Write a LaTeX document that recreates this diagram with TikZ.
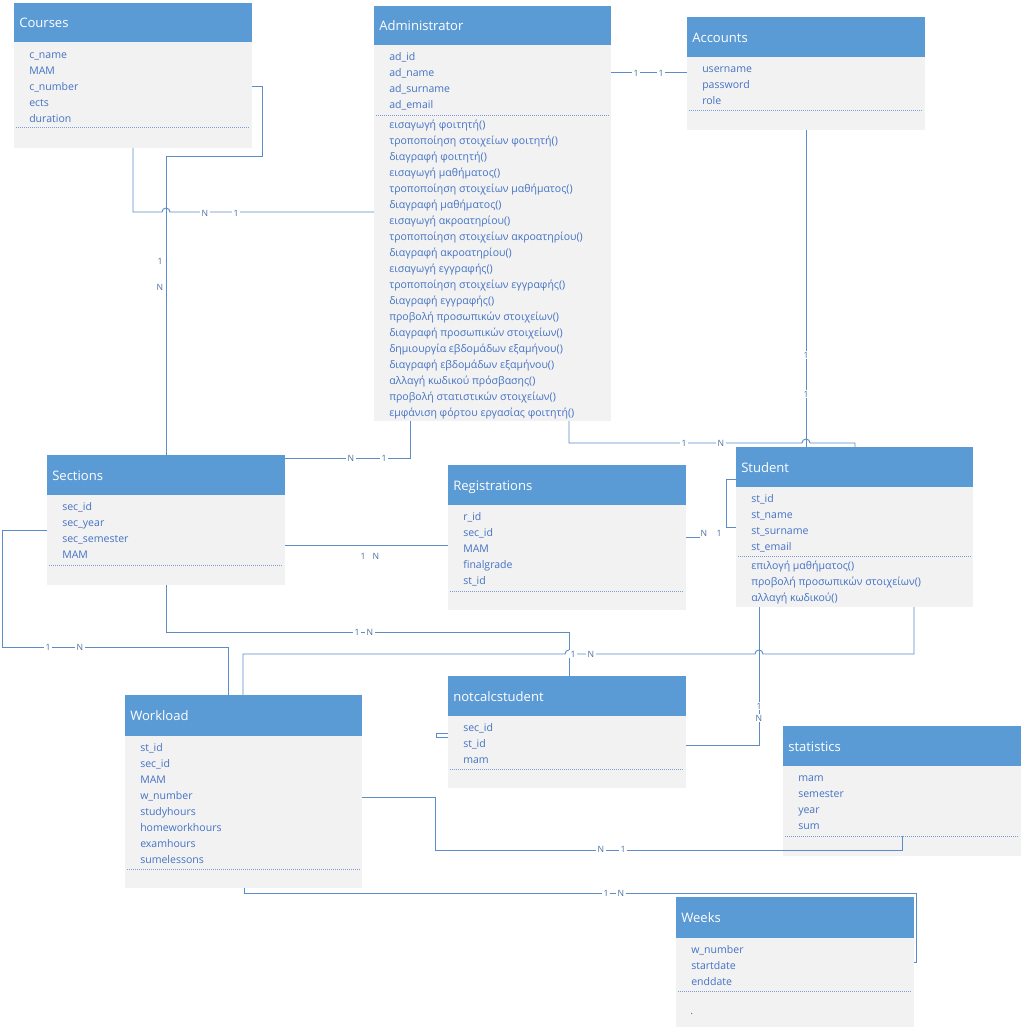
\documentclass[tikz,border=0pt]{standalone}
\usepackage{fontspec}
\setmainfont{Open Sans}
\definecolor{hdr}{RGB}{91,155,213}
\definecolor{bdy}{RGB}{242,242,242}
\definecolor{lnk}{RGB}{91,140,200}
\definecolor{att}{RGB}{68,114,196}
\tikzset{
  hdrbox/.style={fill=hdr},
  bdybox/.style={fill=bdy},
  ttl/.style={anchor=base west,text=white,font=\fontsize{9.8}{10}\selectfont,inner sep=0pt},
  attr/.style={anchor=base west,text=att,font=\fontsize{7.9}{8}\selectfont,inner sep=0pt},
  card/.style={text=lnk!80!black,font=\fontsize{6.5}{7}\selectfont,inner sep=1pt,fill=white},
  link/.style={draw=lnk,line width=0.7pt},
  sep/.style={draw=att!70,densely dotted,line width=0.5pt}
}
% \entity{name}{title}{left}{top}{right}{bottom}{header bottom}{dotted y}{lines}
\newcommand{\entity}[9]{%
  \fill[bdybox] (#3,#4) rectangle (#5,#6);
  \fill[hdrbox] (#3,#4) rectangle (#5,#7);
  \node[ttl] (#1) at (#3+5,{(#4+#7)/2+5}) {#2};
  \draw[sep] (#3+2,#8) -- (#5-2,#8);
  \foreach \t [count=\i from 0] in {#9} \node[attr] at (#3+15,\firsty+4+16*\i) {\t};
}
\begin{document}
\begin{tikzpicture}[x=0.75pt,y=-0.75pt]
\useasboundingbox (0,0) rectangle (1024,1032);

\def\firsty{54}
\entity{courses}{Courses}{14}{3}{252}{148}{42}{127}{c\_name,MAM,c\_number,ects,duration}
\def\firsty{56}
\entity{admin}{Administrator}{374}{6}{611}{421}{45}{115}{ad\_id,ad\_name,ad\_surname,ad\_email}
\foreach \t [count=\i from 0] in {εισαγωγή φοιτητή(),τροποποίηση στοιχείων φοιτητή(),διαγραφή φοιτητή(),εισαγωγή μαθήματος(),τροποποίηση στοιχείων μαθήματος(),διαγραφή μαθήματος(),εισαγωγή ακροατηρίου(),τροποποίηση στοιχείων ακροατηρίου(),διαγραφή ακροατηρίου(),εισαγωγή εγγραφής(),τροποποίηση στοιχείων εγγραφής(),διαγραφή εγγραφής(),προβολή προσωπικών στοιχείων(),διαγραφή προσωπικών στοιχείων(),δημιουργία εβδομάδων εξαμήνου(),διαγραφή εβδομάδων εξαμήνου(),αλλαγή κωδικού πρόσβασης(),προβολή στατιστικών στοιχείων(),εμφάνιση φόρτου εργασίας φοιτητή()}
  \node[attr] at (389,128+16*\i) {\t};
\def\firsty{68}
\entity{accounts}{Accounts}{687}{17}{925}{130}{57}{110}{username,password,role}
\def\firsty{506}
\entity{sections}{Sections}{47}{455}{285}{585}{495}{565}{sec\_id,sec\_year,sec\_semester,MAM}
\def\firsty{516}
\entity{registrations}{Registrations}{448}{465}{686}{610}{505}{591}{r\_id,sec\_id,MAM,finalgrade,st\_id}
\def\firsty{498}
\entity{student}{Student}{736}{447}{973}{607}{487}{556}{st\_id,st\_name,st\_surname,st\_email}
\foreach \t [count=\i from 0] in {επιλογή μαθήματος(),προβολή προσωπικών στοιχείων(),αλλαγή κωδικού()}
  \node[attr] at (751,569+16*\i) {\t};
\def\firsty{727}
\entity{notcalc}{notcalcstudent}{448}{676}{686}{788}{716}{769}{sec\_id,st\_id,mam}
\def\firsty{747}
\entity{workload}{Workload}{125}{695}{362}{888}{736}{869}{st\_id,sec\_id,MAM,w\_number,studyhours,homeworkhours,examhours,sumelessons}
\def\firsty{777}
\entity{statistics}{statistics}{783}{726}{1021}{856}{766}{836}{mam,semester,year,sum}
\def\firsty{949}
\entity{weeks}{Weeks}{676}{897}{914}{1027}{938}{991}{w\_number,startdate,enddate}
\node[attr] at (690,1014) {.};

% connectors
\draw[link] (133,148) -- (133,212) -- (162,212) arc (180:360:4) -- (374,212);
\node[card] at (205,213) {N}; \node[card] at (236,213) {1};
\draw[link] (252,86) -- (262,86) -- (262,156) -- (166,156) -- (166,455);
\node[card] at (160,261) {1}; \node[card] at (160,287) {N};
\draw[link] (410,421) -- (410,458) -- (285,458);
\node[card] at (351,458) {N}; \node[card] at (384,458) {1};
\draw[link] (611,72) -- (687,72);
\node[card] at (636,73) {1}; \node[card] at (661,73) {1};
\draw[link] (806,130) -- (806,447);
\node[card] at (806,355) {1}; \node[card] at (806,394) {1};
\draw[link] (569,421) -- (569,443) -- (802,443) arc (180:360:4) -- (855,443) -- (855,447);
\node[card] at (684,443) {1}; \node[card] at (721,443) {N};
\draw[link] (686,537) -- (700,537);
\draw[link] (736,527) -- (726,527) -- (726,479) -- (736,479);
\node[card] at (704,533) {N}; \node[card] at (719,533) {1};
\draw[link] (285,545) -- (448,545);
\node[card] at (363,556) {1}; \node[card] at (376,556) {N};
\draw[link] (166,585) -- (166,632) -- (569,632) -- (569,676);
\node[card] at (357,632) {1}; \node[card] at (370,632) {N};
\draw[link] (243,695) -- (243,654) -- (565,654) arc (180:360:4) -- (755,654) arc (180:360:4) -- (914,654) -- (914,607);
\node[card] at (573,654) {1}; \node[card] at (591,654) {N};
\draw[link] (47,530) -- (2,530) -- (2,647) -- (228,647) -- (228,695);
\node[card] at (48,647) {1}; \node[card] at (80,647) {N};
\draw[link] (759,607) -- (759,745) -- (686,745);
\node[card] at (759,706) {1}; \node[card] at (759,718) {N};
\draw[link] (362,797) -- (435,797) -- (435,850) -- (902,850) -- (902,836);
\node[card] at (601,849) {N}; \node[card] at (623,849) {1};
\draw[link] (244,888) -- (244,893) -- (916,893) -- (916,962) -- (914,962);
\node[card] at (606,893) {1}; \node[card] at (621,893) {N};
\draw[link] (448,733) -- (436,733) -- (436,737) -- (448,737);
\end{tikzpicture}
\end{document}
